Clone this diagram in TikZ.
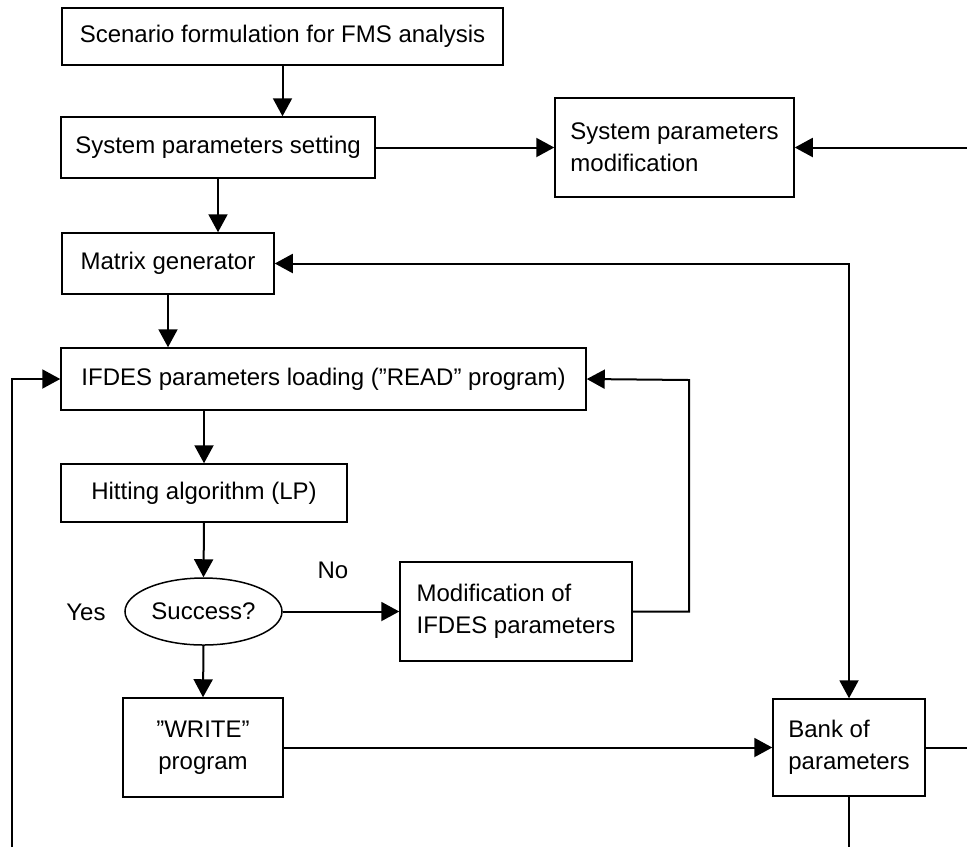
\documentclass[tikz,border=0pt]{standalone}
\usepackage{fontspec}
\setmainfont{Liberation Sans}
\usetikzlibrary{arrows.meta, positioning, shapes.geometric}

\begin{document}
\begin{tikzpicture}[x=0.5pt, y=-0.5pt,
    font=\fontsize{12}{16}\selectfont,
    box/.style={draw, line width=0.75pt, inner sep=0pt, align=center},
    lbox/.style={draw, line width=0.75pt, inner sep=0pt, align=left},
    decision/.style={draw, ellipse, line width=0.75pt, inner sep=0pt},
    arr/.style={-{Triangle[length=9pt, width=9.5pt]}, line width=1pt},
    link/.style={line width=1pt}]
  \useasboundingbox (0,0) rectangle (967,847);

  % Main column
  \node[box, minimum width=220.5pt, minimum height=28.5pt] (scen) at (282.5,36.5) {Scenario formulation for FMS analysis};
  \node[box, minimum width=157pt, minimum height=30.5pt] (setting) at (218,147.5) {System parameters setting};
  \node[box, minimum width=106pt, minimum height=30.5pt] (matgen) at (168,263.5) {Matrix generator};
  \node[box, minimum width=262.5pt, minimum height=31pt] (read) at (323.5,379) {IFDES parameters loading (''READ'' program)};
  \node[box, minimum width=143pt, minimum height=29pt] (hit) at (204,493) {Hitting algorithm (LP)};
  \node[decision, minimum width=78.5pt, minimum height=33.5pt] (succ) at (203.5,611.5) {Success?};
  \node[box, minimum width=80pt, minimum height=49.5pt] (write) at (203,747.5) {''WRITE''\\program};

  % Side boxes
  \node[lbox, minimum width=119.5pt, minimum height=49.5pt] (sysmod) at (674.5,147.5) {System parameters\\modification};
  \node[lbox, minimum width=116pt, minimum height=49.5pt] (modif) at (516,611.5) {Modification of\\IFDES parameters};
  \node[lbox, minimum width=76pt, minimum height=48.5pt] (bank) at (849,747.5) {Bank of\\parameters};

  % Labels
  \node (yes) at (86,612) {Yes};
  \node (no) at (333,570) {No};

  % Free ends
  \coordinate (inR) at (967,147.5);
  \coordinate (outR) at (967,747.5);
  \coordinate (outB) at (849,847);
  \coordinate (loopL) at (12,847);
  \coordinate (loopR) at (689,380);

  % Connectors
  \draw[arr] (scen.south) -- (scen.south |- setting.north);
  \draw[arr] (setting.east) -- (sysmod.west);
  \draw[arr] (inR) -- (sysmod.east);
  \draw[arr] (setting.south) -- (setting.south |- matgen.north);
  \draw[arr, {Triangle[length=9pt, width=9.5pt]}-{Triangle[length=9pt, width=9.5pt]}] (matgen.east) -| (bank.north);
  \draw[arr] (matgen.south) -- (matgen.south |- read.north);
  \draw[arr] (loopL) |- (read.west);
  \draw[arr] (hit.north |- read.south) -- (hit.north);
  \draw[arr] (hit.south) -- (succ.north);
  \draw[arr] (succ.east) -- (succ.east -| modif.west);
  \draw[arr] (modif.east) -| (loopR) -- (read.east);
  \draw[arr] (succ.south) -- (write.north);
  \draw[arr] (write.east) -- (bank.west);
  \draw[link] (bank.east) -- (outR);
  \draw[link] (bank.south) -- (outB);
\end{tikzpicture}
\end{document}
